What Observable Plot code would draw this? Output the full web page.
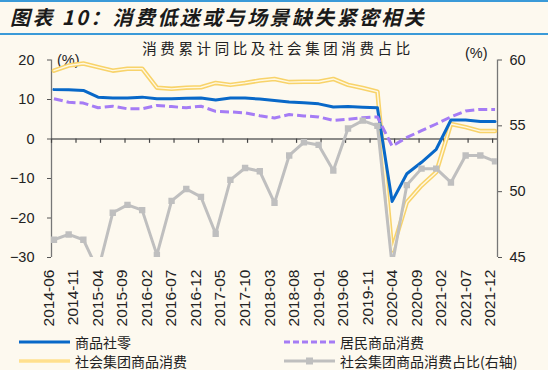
<!DOCTYPE html>
<html><head><meta charset="utf-8">
<script src="https://cdn.jsdelivr.net/npm/d3@7"></script>
<script src="https://cdn.jsdelivr.net/npm/@observablehq/plot@0.6"></script>
<style>
html,body{margin:0;padding:0;}
body{background:#FDF9EF;width:548px;height:370px;overflow:hidden;position:relative;font-family:"Noto Sans CJK SC",sans-serif;color:#222;}
#title{position:absolute;left:0;top:0;width:548px;height:31px;border-top:2px solid #3A9AD8;border-bottom:2px solid #3A9AD8;}
#title span{position:absolute;left:10px;top:1px;font-size:20px;line-height:27px;font-weight:bold;font-style:italic;letter-spacing:2.4px;color:#1a1a1a;}
#sub{position:absolute;left:0;width:556px;top:39px;text-align:center;font-size:14.5px;line-height:18px;letter-spacing:3.6px;color:#222;}
.unit{position:absolute;font-family:"Liberation Sans",Arial,sans-serif;font-size:14.5px;line-height:16px;color:#222;}
#chart{position:absolute;left:0;top:36px;}
.leg{position:absolute;height:18px;display:flex;align-items:center;font-size:14px;color:#222;}
.leg svg{margin-right:5px;}
</style></head>
<body>
<div id="title"><span>图表 10：消费低迷或与场景缺失紧密相关</span></div>
<div id="sub">消费累计同比及社会集团消费占比</div>
<div class="unit" style="left:57px;top:52px;">(%)</div>
<div class="unit" style="left:465px;top:45px;">(%)</div>
<div id="chart"></div>
<div id="legend"></div>
<script>
// quarterly categories
const quarters = ["2014-06","2014-09","2014-12","2015-03","2015-06","2015-09","2015-12","2016-03","2016-06","2016-09","2016-12","2017-03","2017-06","2017-09","2017-12","2018-03","2018-06","2018-09","2018-12","2019-03","2019-06","2019-09","2019-12","2020-03","2020-06","2020-09","2020-12","2021-03","2021-06","2021-09","2021-12"];
// 商品社零 (left axis, %)
const retailGoods = [12.5,12.45,12.3,10.6,10.4,10.4,10.6,10.2,10.2,10.3,10.4,9.9,10.4,10.4,10.1,9.75,9.35,9.2,8.9,8.1,8.2,8.05,7.9,-15.8,-8.8,-5.9,-2.6,4.8,4.8,4.45,4.45];
// 居民商品消费 (left axis, %)
const householdGoods = [10.2,9.3,9.1,7.9,8.3,7.65,7.65,8.5,8.2,7.9,8.3,7.0,6.85,6.6,5.9,5.3,6.2,5.85,5.6,4.7,5.0,5.4,5.6,-1.8,0.4,2.1,3.8,5.6,7.1,7.5,7.5];
// 社会集团商品消费 (left axis, %)
const groupGoods = [17.3,18.6,19.1,18.2,17.3,17.8,17.8,13.0,12.7,13.0,13.1,14.2,13.7,14.2,14.8,15.2,14.4,14.5,14.5,15.2,13.7,12.9,12.0,-28.2,-16.0,-11.8,-8.4,3.8,3.0,2.0,2.0];
// 社会集团商品消费占比 (right axis, %)
const groupShare = [46.35,46.75,46.35,44.0,48.4,49.0,48.6,45.2,49.3,50.2,49.6,46.8,50.9,51.8,51.55,49.15,52.75,53.75,53.55,51.6,54.8,55.4,55.0,44.4,50.5,51.75,51.75,50.7,52.75,52.75,52.3];
// x tick labels
const tickLabels = ["2014-06","2014-11","2015-04","2015-09","2016-02","2016-07","2016-12","2017-05","2017-10","2018-03","2018-08","2019-01","2019-06","2019-11","2020-04","2020-09","2021-02","2021-07","2021-12"];
const leftTicks = [20,10,0,-10,-20,-30];
const rightTicks = [60,55,50,45];

const monthIndex = s => { const [y,m] = s.split("-").map(Number); return (y-2014)*12 + (m-6); };
const toLeft = v => (v-45)*(50/15) - 30;
const fromLeft = v => (v+30)*(15/50) + 45;

const rows = quarters.map((q,i)=>({t: monthIndex(q), a: retailGoods[i], b: householdGoods[i], c: groupGoods[i], d: toLeft(groupShare[i])}));
const tickPos = tickLabels.map(s => monthIndex(s) - 0.5);
const lastMonth = monthIndex(tickLabels[tickLabels.length-1]);

const chart = Plot.plot({
  width: 548, height: 294,
  marginTop: 23.5, marginBottom: 73, marginLeft: 51, marginRight: 51,
  style: {background: "transparent", fontFamily: "'Liberation Sans', Arial, sans-serif", fontSize: "14.5px", color: "#222", overflow: "visible"},
  x: {domain: [-0.5, lastMonth + 0.5], axis: null},
  y: {domain: [-30, 20]},
  marks: [
    Plot.axisY({anchor: "left", ticks: leftTicks, tickSize: 4, tickPadding: 13, stroke: "#555", label: null, fontSize: 14.5}),
    Plot.axisY({anchor: "right", ticks: rightTicks.map(toLeft), tickFormat: d => Math.round(fromLeft(d)), tickSize: 4, tickPadding: 8, stroke: "#555", label: null, fontSize: 14.5}),
    Plot.ruleX([-0.5, lastMonth + 0.5], {stroke: "#777", strokeWidth: 1.3}),
    Plot.ruleY([0], {stroke: "#666", strokeWidth: 1.5}),
    Plot.ruleX(tickPos, {y1: 0, y2: -1.1, stroke: "#444", strokeWidth: 1.2}),
    Plot.text(tickLabels, {x: monthIndex, frameAnchor: "bottom", rotate: -90, textAnchor: "end", dy: 12, fontSize: 15.5, fill: "#222"}),
    Plot.line(rows, {x: "t", y: "c", stroke: "#F8D36A", strokeWidth: 4.5}),
    Plot.line(rows, {x: "t", y: "c", stroke: "#FFF8E2", strokeWidth: 1.4}),
    Plot.line(rows, {x: "t", y: "a", stroke: "#0868C8", strokeWidth: 3}),
    Plot.line(rows, {x: "t", y: "b", stroke: "#A57CF5", strokeWidth: 3, strokeDasharray: "9,4", strokeLinecap: "butt"}),
    Plot.line(rows, {x: "t", y: "d", stroke: "#BFBFBF", strokeWidth: 3, clip: true}),
    Plot.dot(rows, {x: "t", y: "d", symbol: "square", r: 3.6, fill: "#BFBFBF", stroke: "none", clip: true})
  ]
});
document.getElementById("chart").appendChild(chart);

// legend
const legendItems = [
  {name: "商品社零", x: 19, y: 333, kind: "blue"},
  {name: "居民商品消费", x: 284, y: 333, kind: "purple"},
  {name: "社会集团商品消费", x: 19, y: 352, kind: "yellow"},
  {name: "社会集团商品消费占比(右轴)", x: 284, y: 352, kind: "gray"}
];
const sym = {
  blue: '<line x1="0" y1="5" x2="51" y2="5" stroke="#0868C8" stroke-width="3"/>',
  purple: '<line x1="0" y1="5" x2="51" y2="5" stroke="#A57CF5" stroke-width="3" stroke-dasharray="6,3"/>',
  yellow: '<line x1="0" y1="5" x2="51" y2="5" stroke="#FFE08F" stroke-width="3.5"/>',
  gray: '<line x1="0" y1="5" x2="51" y2="5" stroke="#BFBFBF" stroke-width="3"/><rect x="22" y="1.5" width="7" height="7" fill="#BFBFBF"/>'
};
const lg = document.getElementById("legend");
for (const it of legendItems) {
  const d = document.createElement("div");
  d.className = "leg";
  d.style.left = it.x + "px"; d.style.top = it.y + "px";
  d.innerHTML = `<svg width="51" height="10">${sym[it.kind]}</svg><span>${it.name}</span>`;
  lg.appendChild(d);
}
</script>
</body></html>
